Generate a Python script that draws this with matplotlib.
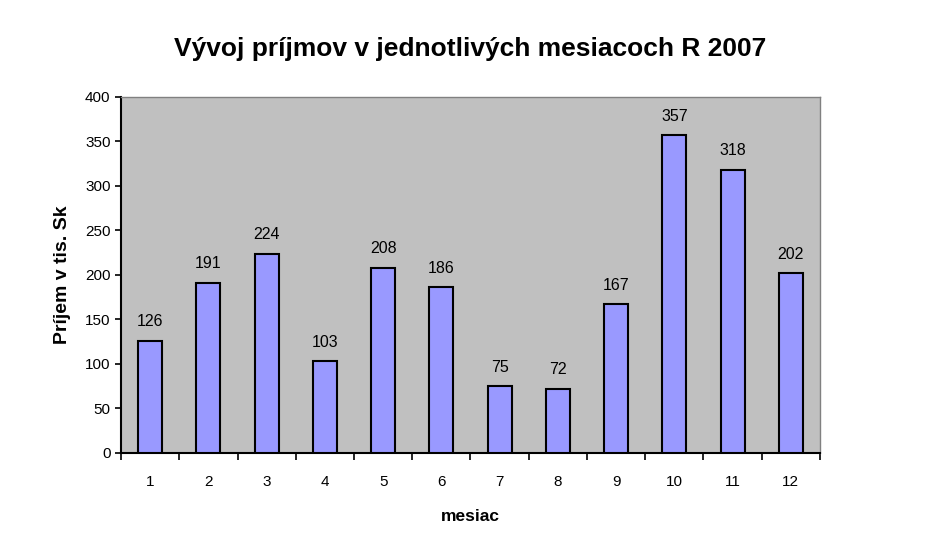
import matplotlib
matplotlib.use("Agg")
import matplotlib.pyplot as plt
import numpy as np

months = ["1", "2", "3", "4", "5", "6", "7", "8", "9", "10", "11", "12"]
values = [126, 191, 224, 103, 208, 186, 75, 72, 167, 357, 318, 202]
title = "Vývoj príjmov v jednotlivých mesiacoch R 2007"
ylabel = "Príjem v tis. Sk"
xlabel = "mesiac"

plt.rcParams['font.family'] = ['Liberation Sans', 'DejaVu Sans']

fig = plt.figure(figsize=(9.28, 5.56), dpi=100)
ax = fig.add_axes([0.1304, 0.1853, 0.7532, 0.6403])
ax.set_facecolor("#C0C0C0")

x = np.arange(len(months))
bars = ax.bar(x, values, width=0.41, color="#9999FF", edgecolor="black", linewidth=1.5, zorder=3)
for xi, v in zip(x, values):
    ax.text(xi, v + 13, str(v), ha="center", va="bottom", fontsize=11.5)

ax.set_xlim(-0.5, len(months) - 0.5)
ax.set_ylim(0, 400)
ax.set_yticks(range(0, 401, 50))
ax.tick_params(axis="y", labelsize=11, length=4, width=1.2, direction="out")
ax.set_xticks(x)
ax.set_xticklabels(months, fontsize=11)
ax.set_xticks(np.arange(-0.5, len(months), 1), minor=True)
ax.tick_params(axis="x", which="major", length=0, pad=16)
ax.tick_params(axis="x", which="minor", length=5, width=1.2, direction="out")

for side in ["top", "right"]:
    ax.spines[side].set_color("#808080")
    ax.spines[side].set_linewidth(1)
for side in ["left", "bottom"]:
    ax.spines[side].set_color("black")
    ax.spines[side].set_linewidth(1.5)

ax.set_ylabel(ylabel, fontsize=14, fontweight="bold", labelpad=10)
ax.set_xlabel(xlabel, fontsize=12.5, fontweight="bold", labelpad=14)
fig.text(0.507, 0.912, title, ha="center", va="center", fontsize=19, fontweight="bold")

fig.savefig("out.png", dpi=100)
